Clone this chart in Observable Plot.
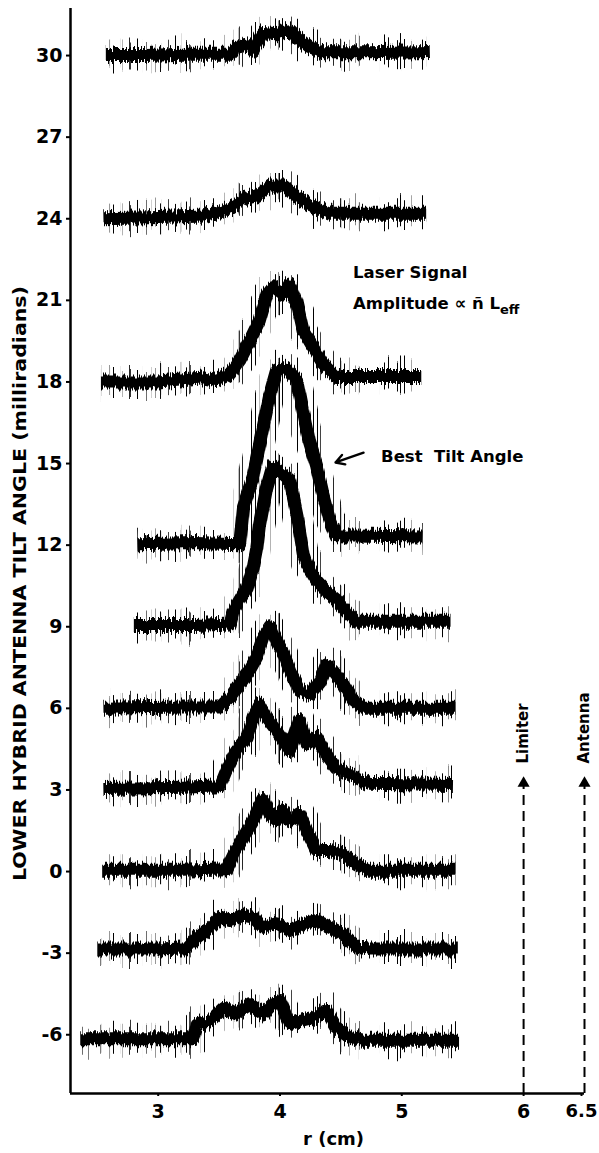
<!DOCTYPE html>
<html>
<head>
<meta charset="utf-8">
<script src="https://cdn.jsdelivr.net/npm/d3@7"></script>
<script src="https://cdn.jsdelivr.net/npm/@observablehq/plot@0.6"></script>
<style>
  html, body { margin: 0; padding: 0; background: #fff; }
</style>
</head>
<body>
<div id="chart"></div>
<script>
// ---- Data ----
const tiltTicks = [-6, -3, 0, 3, 6, 9, 12, 15, 18, 21, 24, 27, 30];
const rTicks = [3, 4, 5, 6];
const rTickLast = [6.5];

// each trace: [r (cm), signal level in tilt-axis units]
const trace30 = [[2.57,30.0],[2.9,30.0],[3.2,30.05],[3.59,30.05],[3.64,30.3],[3.75,30.4],[3.78,30.2],[3.86,30.85],[3.97,30.8],[4.08,30.95],[4.16,30.6],[4.24,30.3],[4.35,30.1],[4.73,30.1],[5.23,30.15]];
const trace24 = [[2.55,24.0],[3.0,24.05],[3.37,24.1],[3.59,24.4],[3.70,24.7],[3.81,24.8],[3.92,25.2],[4.03,25.2],[4.14,24.8],[4.24,24.5],[4.41,24.2],[5.2,24.2]];
const trace18 = [[2.53,18.0],[3.0,18.0],[3.37,18.15],[3.48,18.05],[3.59,18.3],[3.67,18.8],[3.75,19.5],[3.83,20.25],[3.89,21.2],[3.94,21.5],[4.03,21.2],[4.08,21.6],[4.14,20.9],[4.19,19.9],[4.27,19.3],[4.35,18.7],[4.46,18.2],[5.16,18.2]];
const trace12 = [[2.83,12.05],[3.3,12.1],[3.67,12.05],[3.70,13.4],[3.78,14.5],[3.86,16.3],[3.92,17.6],[3.97,18.4],[4.05,18.5],[4.14,18.05],[4.19,16.9],[4.24,15.8],[4.30,14.9],[4.35,13.9],[4.41,12.9],[4.46,12.35],[5.17,12.3]];
const trace9 = [[2.80,9.05],[3.3,9.05],[3.59,9.1],[3.62,9.6],[3.73,10.45],[3.78,11.2],[3.81,11.9],[3.83,12.66],[3.89,14.1],[3.94,14.9],[4.03,14.6],[4.08,14.4],[4.14,13.1],[4.19,11.7],[4.22,11.3],[4.30,10.7],[4.38,10.3],[4.46,10.0],[4.54,9.6],[4.63,9.2],[5.40,9.2]];
const trace6 = [[2.55,6.0],[3.2,6.05],[3.51,6.05],[3.59,6.4],[3.67,6.9],[3.75,7.4],[3.81,7.9],[3.86,8.6],[3.92,9.0],[3.97,8.5],[4.03,8.0],[4.08,7.4],[4.16,6.65],[4.24,6.5],[4.33,7.0],[4.38,7.6],[4.43,7.4],[4.52,6.9],[4.60,6.3],[4.68,6.0],[5.44,6.0]];
const trace3 = [[2.55,3.05],[3.2,3.1],[3.51,3.15],[3.56,3.7],[3.64,4.45],[3.73,4.94],[3.78,5.67],[3.83,6.16],[3.89,5.67],[3.97,5.2],[4.08,4.45],[4.16,5.55],[4.22,4.7],[4.30,4.94],[4.38,4.3],[4.46,3.8],[4.60,3.5],[4.73,3.25],[5.42,3.2]];
const trace0 = [[2.54,0.05],[3.2,0.05],[3.56,0.1],[3.62,0.65],[3.70,1.26],[3.78,1.87],[3.83,2.4],[3.86,2.65],[3.92,2.1],[3.97,1.87],[4.03,2.24],[4.08,1.87],[4.16,2.1],[4.22,1.5],[4.30,0.77],[4.41,0.77],[4.52,0.65],[4.63,0.28],[4.73,0.05],[5.44,0.05]];
const traceM3 = [[2.50,-2.85],[3.0,-2.85],[3.24,-2.8],[3.32,-2.41],[3.43,-2.05],[3.51,-1.68],[3.59,-1.8],[3.70,-1.6],[3.78,-1.68],[3.86,-2.05],[3.97,-1.92],[4.08,-2.17],[4.19,-1.92],[4.30,-1.8],[4.41,-2.05],[4.52,-2.29],[4.63,-2.78],[4.73,-2.85],[5.46,-2.85]];
const traceM6 = [[2.36,-6.15],[3.0,-6.15],[3.29,-6.15],[3.32,-5.6],[3.43,-5.48],[3.54,-4.99],[3.64,-5.23],[3.75,-4.87],[3.86,-5.23],[3.94,-4.87],[4.00,-4.74],[4.08,-5.6],[4.16,-5.48],[4.27,-5.36],[4.38,-5.11],[4.46,-5.72],[4.57,-6.09],[4.68,-6.2],[5.47,-6.2]];

const traceTilts = [30, 24, 18, 12, 9, 6, 3, 0, -3, -6];
const traceList = [trace30, trace24, trace18, trace12, trace9, trace6, trace3, trace0, traceM3, traceM6];

const markerR = [6, 6.5];
const markerNames = ["Limiter", "Antenna"];

const yTitle = "LOWER HYBRID ANTENNA TILT ANGLE (milliradians)";
const xTitle = "r (cm)";
const note1 = "Laser Signal";
const note2 = "Amplitude ∝ ñ Leff";
const note3 = "Best  Tilt Angle";

// ---- Build rows ----
const rows = traceList.flatMap((pts, i) => pts.map(([r, v]) => ({tilt: traceTilts[i], r, v})));

const xDomain = [2.28, 6.5];
const yDomain = [-8.16, 31.73];
const FONT = "DejaVu Sans";

const plot = Plot.plot({
  width: 599,
  height: 1153,
  marginLeft: 70,
  marginRight: 15,
  marginTop: 8,
  marginBottom: 60,
  x: {domain: xDomain},
  y: {domain: yDomain},
  style: {fontFamily: FONT, background: "white", color: "black"},
  marks: [
    // spiky halo of the traces (textured by an SVG filter below)
    Plot.line(rows, {x: "r", y: "v", z: "tilt", stroke: "black", strokeWidth: 30, strokeLinejoin: "round", strokeLinecap: "butt"}),
    // dense core of the traces
    Plot.line(rows, {x: "r", y: "v", z: "tilt", stroke: "black", strokeWidth: 13, strokeLinejoin: "round", strokeLinecap: "butt"}),
    Plot.ruleX([xDomain[0]], {stroke: "black", strokeWidth: 2.5}),
    Plot.ruleY([yDomain[0]], {stroke: "black", strokeWidth: 2.5}),
    Plot.axisY(tiltTicks, {tickSize: 4, tickPadding: 4, fontSize: 19, fontWeight: "bold", strokeWidth: 2, label: null, tickFormat: d => String(d)}),
    Plot.axisX(rTicks, {tickSize: 3, tickPadding: 8, fontSize: 19, fontWeight: "bold", strokeWidth: 2, label: null, tickFormat: d => String(d)}),
    Plot.axisX(rTickLast, {tickSize: 3, tickPadding: 8, fontSize: 18, fontWeight: "bold", strokeWidth: 2, label: null, dx: -3, tickFormat: d => String(d)}),
    // Limiter / Antenna dashed arrows
    Plot.ruleX(markerR, {y1: yDomain[0], y2: 3.3, stroke: "black", strokeWidth: 2, strokeDasharray: "10,6"}),
    Plot.dot(markerR, {x: d => d, y: 3.25, symbol: "triangle", r: 4.5, fill: "black", stroke: "none"}),
    Plot.text(markerR, {x: d => d, y: 3.97, text: (d, i) => markerNames[i], rotate: -90, textAnchor: "start", fontSize: 15, fontWeight: "bold"}),
    // annotations
    Plot.text([note1], {x: 4.60, y: 21.84, textAnchor: "start", lineAnchor: "bottom", fontSize: 16.5, fontWeight: "bold"}),
    Plot.text([note2], {x: 4.60, y: 20.70, textAnchor: "start", lineAnchor: "bottom", fontSize: 16.5, fontWeight: "bold"}),
    Plot.text([note3], {x: 4.83, y: 15.04, textAnchor: "start", lineAnchor: "bottom", fontSize: 16.5, fontWeight: "bold"}),
    Plot.arrow([0], {x1: 4.686, y1: 15.40, x2: 4.456, y2: 15.04, stroke: "black", strokeWidth: 2.4, headLength: 9}),
    // axis titles
    Plot.text([yTitle], {x: 1.87, y: 10.59, rotate: -90, fontSize: 17, fontWeight: "bold"}),
    Plot.text([xTitle], {x: 4.44, y: -9.85, fontSize: 18, fontWeight: "bold"})
  ]
});

// ---- Post-processing: noise texture on the traces, subscript, title length ----
const svg = d3.select(plot);
const defs = svg.insert("defs", ":first-child");

// core: jitter each pixel column vertically
const f = defs.append("filter").attr("id", "noise")
  .attr("x", "-5%").attr("y", "-10%").attr("width", "110%").attr("height", "120%")
  .attr("color-interpolation-filters", "sRGB");
f.append("feTurbulence").attr("type", "fractalNoise").attr("baseFrequency", "0.8 0.012")
  .attr("numOctaves", 2).attr("seed", 7).attr("result", "t");
f.append("feColorMatrix").attr("in", "t").attr("type", "matrix")
  .attr("values", "0 0 0 0 0.5  0 1 0 0 0  0 0 1 0 0  0 0 0 0 1").attr("result", "tm");
f.append("feDisplacementMap").attr("in", "SourceGraphic").attr("in2", "tm")
  .attr("scale", 12).attr("xChannelSelector", "R").attr("yChannelSelector", "G");

// spikes: sparse vertical hairlines cut from the wide halo, then jittered
const g = defs.append("filter").attr("id", "spikes")
  .attr("x", "-5%").attr("y", "-10%").attr("width", "110%").attr("height", "120%")
  .attr("color-interpolation-filters", "sRGB");
g.append("feTurbulence").attr("type", "fractalNoise").attr("baseFrequency", "0.55 0")
  .attr("numOctaves", 1).attr("seed", 3).attr("result", "st");
g.append("feColorMatrix").attr("in", "st").attr("type", "matrix")
  .attr("values", "0 0 0 0 0  0 0 0 0 0  0 0 0 0 0  1 0 0 0 0").attr("result", "sa");
const ct = g.append("feComponentTransfer").attr("in", "sa").attr("result", "stripes");
ct.append("feFuncA").attr("type", "linear").attr("slope", 14).attr("intercept", -8.1);
g.append("feComposite").attr("in", "SourceGraphic").attr("in2", "stripes").attr("operator", "in").attr("result", "sp");
g.append("feTurbulence").attr("type", "fractalNoise").attr("baseFrequency", "0.5 0.01")
  .attr("numOctaves", 2).attr("seed", 11).attr("result", "t2");
g.append("feColorMatrix").attr("in", "t2").attr("type", "matrix")
  .attr("values", "0 0 0 0 0.5  0 1 0 0 0  0 0 1 0 0  0 0 0 0 1").attr("result", "tm2");
g.append("feDisplacementMap").attr("in", "sp").attr("in2", "tm2")
  .attr("scale", 22).attr("xChannelSelector", "R").attr("yChannelSelector", "G");

const lineGroups = svg.selectAll('g[aria-label="line"]').nodes();
if (lineGroups.length >= 2) {
  d3.select(lineGroups[0]).attr("filter", "url(#spikes)");
  d3.select(lineGroups[1]).attr("filter", "url(#noise)");
}

svg.selectAll("text").each(function() {
  const t = d3.select(this);
  const s = t.text();
  if (s === note2) {
    t.text(null);
    t.append("tspan").text("Amplitude ∝ ñ L");
    t.append("tspan").attr("dy", 5).attr("font-size", 13).text("eff");
  } else if (s === yTitle) {
    t.attr("textLength", 595).attr("lengthAdjust", "spacingAndGlyphs");
  }
});

document.getElementById("chart").appendChild(plot);
</script>
</body>
</html>
